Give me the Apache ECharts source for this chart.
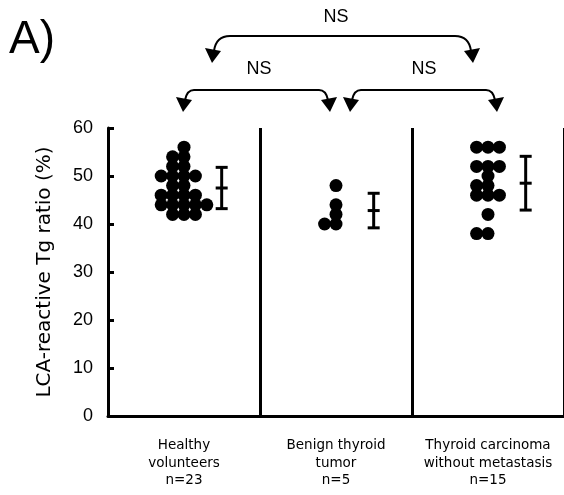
<!DOCTYPE html>
<html><head><meta charset="utf-8">
<script src="https://cdn.jsdelivr.net/npm/echarts@6/dist/echarts.min.js"></script>
<style>html,body{margin:0;padding:0;background:#fff}#c{width:564px;height:495px}</style>
</head><body><div id="c"></div>
<script>
// ---- data ----
const categories = ['Healthy\nvolunteers\nn=23', 'Benign thyroid\ntumor\nn=5', 'Thyroid carcinoma\nwithout metastasis\nn=15'];
const healthyValues = [56,54,54,52,52,50,50,50,50,48,48,46,46,46,46,44,44,44,44,44,42,42,42];
const benignValues = [48,44,42,40,40];
const carcinomaValues = [56,56,56,52,52,52,50,48,48,46,46,46,42,38,38];
const groupMeans = [47.5, 42.8, 48.5];
const groupUpper = [51.8, 46.4, 54.1];
const groupLower = [43.2, 39.2, 42.9];
const yMin = 0, yMax = 60, yStep = 10;
const sigLabel = 'NS';

// ---- layout constants ----
const FONT = '"Liberation Sans", Arial, sans-serif';
const FONT2 = '"DejaVu Sans", sans-serif';
const BAND_PX = 153.3;
const DOT_STEP = 11.5 / BAND_PX;   // horizontal spacing of stacked dots (axis units)
const ERR_OFF = 38 / BAND_PX;      // error bar offset from group centre

const groups = [healthyValues, benignValues, carcinomaValues];
const dots = [];
groups.forEach((vals, g) => {
  const counts = {};
  vals.forEach(v => counts[v] = (counts[v] || 0) + 1);
  Object.keys(counts).forEach(k => {
    const n = counts[k];
    for (let i = 0; i < n; i++) {
      const off = i - Math.floor(n / 2);
      dots.push([g + 0.5 + off * DOT_STEP, Number(k)]);
    }
  });
});
const errData = groupMeans.map((m, g) => [g, m, groupUpper[g], groupLower[g]]);

function arrow(lx, rx, lineY, tipY, r) {
  const by = tipY - 12;
  const st = {stroke:'#000', fill:null, lineWidth:2};
  return [
    {type:'bezierCurve', shape:{x1:lx+2, y1:by, cpx1:lx+4, cpy1:lineY, x2:lx+4+r, y2:lineY}, style:st},
    {type:'line', shape:{x1:lx+4+r, y1:lineY, x2:rx-4-r, y2:lineY}, style:st},
    {type:'bezierCurve', shape:{x1:rx-4-r, y1:lineY, cpx1:rx-4, cpy1:lineY, x2:rx-2, y2:by}, style:st},
    {type:'polygon', shape:{points:[[lx, tipY],[lx-7, tipY-15],[lx+9, tipY-12]]}, style:{fill:'#000'}},
    {type:'polygon', shape:{points:[[rx, tipY],[rx+7, tipY-15],[rx-9, tipY-12]]}, style:{fill:'#000'}}
  ];
}
function txt(x, y, s, size) {
  return {type:'text', x:x, y:y, style:{text:s, font:`${size}px ${FONT}`, fill:'#000', align:'center', verticalAlign:'middle'}};
}

const chart = echarts.init(document.getElementById('c'), null, {renderer:'canvas'});
chart.setOption({
  animation: false,
  backgroundColor: '#fff',
  grid: {left:108, right:-4, top:128, bottom:79},
  xAxis: [
    {type:'category', data:categories, boundaryGap:true,
     axisLine:{show:true, lineStyle:{color:'#000', width:3}},
     axisTick:{show:false},
     axisLabel:{color:'#000', fontSize:13.5, lineHeight:17.5, margin:21, fontFamily:FONT2, interval:0},
     splitLine:{show:true, interval:0, lineStyle:{color:'#000', width:3}}},
    {type:'value', min:0, max:3, show:false}
  ],
  yAxis: {type:'value', min:yMin, max:yMax, interval:yStep,
    name:'LCA-reactive Tg ratio (%)', nameLocation:'middle', nameGap:53,
    nameTextStyle:{color:'#000', fontSize:20, fontFamily:FONT2},
    axisLine:{show:true, lineStyle:{color:'#000', width:3}},
    axisTick:{show:true, inside:true, length:6, lineStyle:{color:'#000', width:3}},
    axisLabel:{color:'#000', fontSize:18, margin:15, fontFamily:FONT},
    splitLine:{show:false}},
  series: [
    {type:'scatter', xAxisIndex:1, data:dots, symbol:'circle', symbolSize:13,
     itemStyle:{color:'#000', opacity:1}, z:3},
    {type:'custom', xAxisIndex:1, data:errData, encode:{x:0, y:1}, z:4,
     renderItem: function(params, api) {
       const x = api.value(0) + 0.5 + ERR_OFF;
       const pt = api.coord([x, api.value(2)]);
       const pm = api.coord([x, api.value(1)]);
       const pb = api.coord([x, api.value(3)]);
       const hw = 6;
       const st = {stroke:'#000', lineWidth:3};
       return {type:'group', children:[
         {type:'line', shape:{x1:pt[0], y1:pt[1], x2:pb[0], y2:pb[1]}, style:st},
         {type:'line', shape:{x1:pt[0]-hw, y1:pt[1], x2:pt[0]+hw, y2:pt[1]}, style:st},
         {type:'line', shape:{x1:pm[0]-hw, y1:pm[1], x2:pm[0]+hw, y2:pm[1]}, style:st},
         {type:'line', shape:{x1:pb[0]-hw, y1:pb[1], x2:pb[0]+hw, y2:pb[1]}, style:st}
       ]};
     }}
  ],
  graphic: [
    {type:'text', x:9, y:40, style:{text:'A)', font:`46px ${FONT}`, fill:'#000', align:'left', verticalAlign:'middle'}},
    txt(336, 17, sigLabel, 18),
    txt(259, 69, sigLabel, 18),
    txt(424, 69, sigLabel, 18),
    ...arrow(212, 473, 36, 63, 14),
    ...arrow(183, 330, 90, 112, 7),
    ...arrow(350, 497, 90, 112, 7)
  ]
});
</script>
</body></html>
